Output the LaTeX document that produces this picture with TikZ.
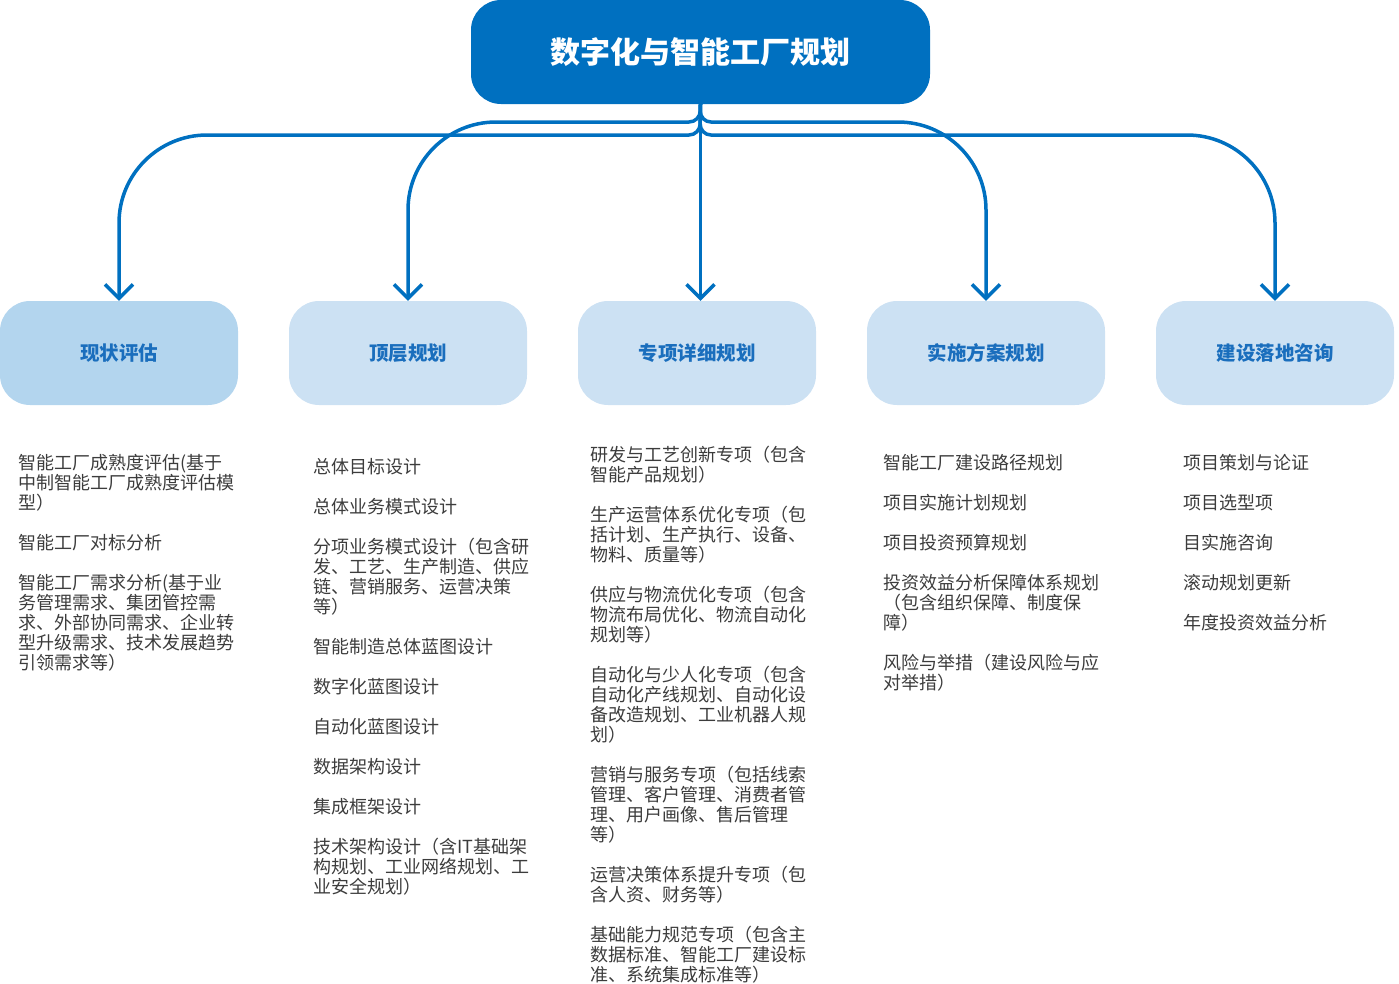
\documentclass[tikz,border=0pt]{standalone}
\usepackage{fontspec}
\setmainfont{Noto Sans CJK SC}
\usepackage{tikz}
\usetikzlibrary{arrows.meta}
\definecolor{mainblue}{HTML}{0070C0}
\definecolor{boxdark}{HTML}{B3D5EE}
\definecolor{boxlight}{HTML}{CCE1F3}
\definecolor{labelblue}{HTML}{1A6EBD}
\definecolor{textgray}{HTML}{3C3C3C}
\tikzstyle{stage}=[rectangle, rounded corners=30pt, minimum width=238pt, minimum height=104pt, inner sep=0pt, text=labelblue, font=\fontsize{19.5}{22}\selectfont\bfseries]
\tikzstyle{items}=[anchor=north west, align=left, inner sep=0pt, text=textgray, font=\fontsize{18}{20}\selectfont]
\tikzstyle{flow}=[draw=mainblue, line width=3.5pt, -{Straight Barb[length=14pt,width=28pt]}]

\begin{document}
\begin{tikzpicture}[x=1pt, y=-1pt]
        \useasboundingbox (0,0) rectangle (1399,983);

        % Titulo
        \node[fill=mainblue, rounded corners=30pt, minimum width=459pt, minimum height=104pt, inner sep=0pt,
              text=white, font=\fontsize{30}{36}\selectfont\bfseries] (title) at (700.5,52) {数字化与智能工厂规划};

        % Etapas
        \foreach \i/\t/\c in {1/现状评估/boxdark, 2/顶层规划/boxlight, 3/专项详细规划/boxlight, 4/实施方案规划/boxlight, 5/建设落地咨询/boxlight}
            \node[stage, fill=\c] (s\i) at ({119+289*(\i-1)},353) {\t};

        % Barras
        \coordinate (bu) at (700,122);
        \coordinate (bl) at (700,135);

        % Conexiones
        \foreach \i/\b in {1/bl, 2/bu, 4/bu, 5/bl}
            \draw[flow] (title.south) [rounded corners=11pt] -- (\b) [rounded corners=88pt] -- (s\i.north |- \b) -- (s\i.north);
        \draw[flow] (title.south) -- (title.south |- s3.north);

        % Contenidos
        \node[items] (l1) at (18,454) {智能工厂成熟度评估(基于\\中制智能工厂成熟度评估模\\型）\\[20pt]智能工厂对标分析\\[20pt]智能工厂需求分析(基于业\\务管理需求、集团管控需\\求、外部协同需求、企业转\\型升级需求、技术发展趋势\\引领需求等）};
        \node[items] (l2) at (313,458) {总体目标设计\\[20pt]总体业务模式设计\\[20pt]分项业务模式设计（包含研\\发、工艺、生产制造、供应\\链、营销服务、运营决策\\等）\\[20pt]智能制造总体蓝图设计\\[20pt]数字化蓝图设计\\[20pt]自动化蓝图设计\\[20pt]数据架构设计\\[20pt]集成框架设计\\[20pt]技术架构设计（含IT基础架\\构规划、工业网络规划、工\\业安全规划）};
        \node[items] (l3) at (590,446) {研发与工艺创新专项（包含\\智能产品规划）\\[20pt]生产运营体系优化专项（包\\括计划、生产执行、设备、\\物料、质量等）\\[20pt]供应与物流优化专项（包含\\物流布局优化、物流自动化\\规划等）\\[20pt]自动化与少人化专项（包含\\自动化产线规划、自动化设\\备改造规划、工业机器人规\\划）\\[20pt]营销与服务专项（包括线索\\管理、客户管理、消费者管\\理、用户画像、售后管理\\等）\\[20pt]运营决策体系提升专项（包\\含人资、财务等）\\[20pt]基础能力规范专项（包含主\\数据标准、智能工厂建设标\\准、系统集成标准等）};
        \node[items] (l4) at (883,454) {智能工厂建设路径规划\\[20pt]项目实施计划规划\\[20pt]项目投资预算规划\\[20pt]投资效益分析保障体系规划\\（包含组织保障、制度保\\障）\\[20pt]风险与举措（建设风险与应\\对举措）};
        \node[items] (l5) at (1183,454) {项目策划与论证\\[20pt]项目选型项\\[20pt]目实施咨询\\[20pt]滚动规划更新\\[20pt]年度投资效益分析};
\end{tikzpicture}
\end{document}
